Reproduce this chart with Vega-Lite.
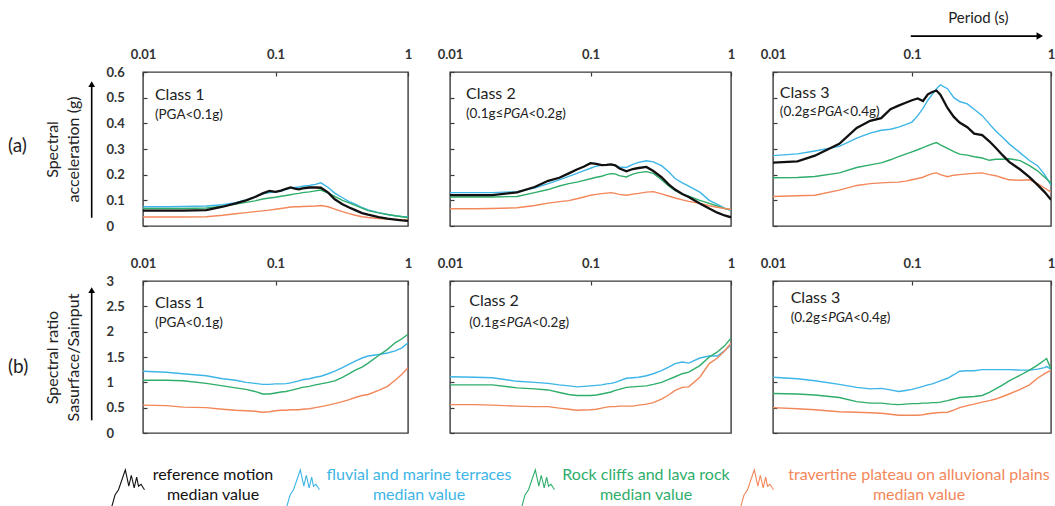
{
  "$schema": "https://vega.github.io/schema/vega-lite/v6.json",
  "padding": {"left": 7, "top": 10, "right": 0, "bottom": 0},
  "background": "white",
  "config": {
    "font": "Lato",
    "view": {"stroke": "#3a3a3a", "strokeWidth": 1.4},
    "axis": {"grid": false, "domain": false, "tickColor": "#3a3a3a", "tickSize": -4, "tickWidth": 1.2,
      "labelFont": "Lato", "labelFontWeight": "bold", "labelFontSize": 13, "labelColor": "#333",
      "labelFlush": false, "labelOverlap": false, "labelBound": false,
      "titleFont": "Lato", "titleFontWeight": "normal", "titleFontSize": 16, "titleColor": "#222", "titleLineHeight": 21}
  },
  "datasets": {
    "a1": [
      {"T":0.01,"ref":0.06,"flu":0.075,"rock":0.068,"trav":0.035},
      {"T":0.015,"ref":0.06,"flu":0.075,"rock":0.068,"trav":0.035},
      {"T":0.02,"ref":0.06,"flu":0.076,"rock":0.068,"trav":0.035},
      {"T":0.03,"ref":0.062,"flu":0.078,"rock":0.07,"trav":0.036},
      {"T":0.04,"ref":0.075,"flu":0.083,"rock":0.077,"trav":0.042},
      {"T":0.05,"ref":0.088,"flu":0.091,"rock":0.085,"trav":0.048},
      {"T":0.06,"ref":0.1,"flu":0.102,"rock":0.092,"trav":0.052},
      {"T":0.07,"ref":0.113,"flu":0.113,"rock":0.098,"trav":0.056},
      {"T":0.08,"ref":0.127,"flu":0.125,"rock":0.105,"trav":0.059},
      {"T":0.09,"ref":0.137,"flu":0.13,"rock":0.109,"trav":0.062},
      {"T":0.1,"ref":0.133,"flu":0.132,"rock":0.112,"trav":0.065},
      {"T":0.11,"ref":0.138,"flu":0.136,"rock":0.116,"trav":0.068},
      {"T":0.12,"ref":0.145,"flu":0.142,"rock":0.119,"trav":0.071},
      {"T":0.13,"ref":0.15,"flu":0.148,"rock":0.122,"trav":0.074},
      {"T":0.14,"ref":0.146,"flu":0.15,"rock":0.125,"trav":0.075},
      {"T":0.15,"ref":0.143,"flu":0.152,"rock":0.127,"trav":0.075},
      {"T":0.16,"ref":0.147,"flu":0.155,"rock":0.13,"trav":0.076},
      {"T":0.18,"ref":0.15,"flu":0.158,"rock":0.133,"trav":0.077},
      {"T":0.2,"ref":0.15,"flu":0.162,"rock":0.137,"trav":0.078},
      {"T":0.22,"ref":0.149,"flu":0.168,"rock":0.14,"trav":0.08},
      {"T":0.25,"ref":0.13,"flu":0.15,"rock":0.128,"trav":0.075},
      {"T":0.28,"ref":0.104,"flu":0.128,"rock":0.115,"trav":0.066},
      {"T":0.32,"ref":0.085,"flu":0.11,"rock":0.1,"trav":0.056},
      {"T":0.36,"ref":0.072,"flu":0.095,"rock":0.09,"trav":0.048},
      {"T":0.4,"ref":0.062,"flu":0.085,"rock":0.08,"trav":0.042},
      {"T":0.45,"ref":0.05,"flu":0.072,"rock":0.07,"trav":0.036},
      {"T":0.5,"ref":0.044,"flu":0.063,"rock":0.06,"trav":0.033},
      {"T":0.6,"ref":0.035,"flu":0.052,"rock":0.051,"trav":0.029},
      {"T":0.7,"ref":0.029,"flu":0.045,"rock":0.045,"trav":0.027},
      {"T":0.8,"ref":0.025,"flu":0.04,"rock":0.04,"trav":0.026},
      {"T":0.9,"ref":0.022,"flu":0.037,"rock":0.036,"trav":0.025},
      {"T":1,"ref":0.02,"flu":0.035,"rock":0.033,"trav":0.024}
    ],
    "a2": [
      {"T":0.01,"ref":0.12,"flu":0.13,"rock":0.113,"trav":0.067},
      {"T":0.015,"ref":0.12,"flu":0.13,"rock":0.113,"trav":0.067},
      {"T":0.02,"ref":0.12,"flu":0.13,"rock":0.113,"trav":0.068},
      {"T":0.03,"ref":0.131,"flu":0.134,"rock":0.115,"trav":0.071},
      {"T":0.04,"ref":0.152,"flu":0.148,"rock":0.13,"trav":0.08},
      {"T":0.05,"ref":0.176,"flu":0.165,"rock":0.142,"trav":0.089},
      {"T":0.06,"ref":0.188,"flu":0.18,"rock":0.156,"trav":0.095},
      {"T":0.07,"ref":0.205,"flu":0.193,"rock":0.165,"trav":0.099},
      {"T":0.08,"ref":0.22,"flu":0.205,"rock":0.171,"trav":0.106},
      {"T":0.09,"ref":0.232,"flu":0.216,"rock":0.178,"trav":0.113},
      {"T":0.1,"ref":0.245,"flu":0.225,"rock":0.184,"trav":0.12},
      {"T":0.11,"ref":0.242,"flu":0.233,"rock":0.19,"trav":0.123},
      {"T":0.12,"ref":0.237,"flu":0.237,"rock":0.194,"trav":0.126},
      {"T":0.13,"ref":0.238,"flu":0.239,"rock":0.2,"trav":0.128},
      {"T":0.14,"ref":0.24,"flu":0.24,"rock":0.204,"trav":0.13},
      {"T":0.15,"ref":0.236,"flu":0.236,"rock":0.203,"trav":0.127},
      {"T":0.16,"ref":0.225,"flu":0.23,"rock":0.196,"trav":0.123},
      {"T":0.18,"ref":0.213,"flu":0.228,"rock":0.191,"trav":0.12},
      {"T":0.2,"ref":0.222,"flu":0.24,"rock":0.202,"trav":0.124},
      {"T":0.22,"ref":0.226,"flu":0.248,"rock":0.208,"trav":0.127},
      {"T":0.25,"ref":0.23,"flu":0.254,"rock":0.212,"trav":0.132},
      {"T":0.28,"ref":0.214,"flu":0.25,"rock":0.205,"trav":0.134},
      {"T":0.32,"ref":0.19,"flu":0.235,"rock":0.18,"trav":0.125},
      {"T":0.36,"ref":0.162,"flu":0.211,"rock":0.156,"trav":0.117},
      {"T":0.4,"ref":0.142,"flu":0.185,"rock":0.138,"trav":0.109},
      {"T":0.45,"ref":0.125,"flu":0.168,"rock":0.124,"trav":0.102},
      {"T":0.5,"ref":0.113,"flu":0.155,"rock":0.116,"trav":0.096},
      {"T":0.6,"ref":0.088,"flu":0.132,"rock":0.1,"trav":0.088},
      {"T":0.7,"ref":0.068,"flu":0.1,"rock":0.088,"trav":0.079},
      {"T":0.8,"ref":0.052,"flu":0.084,"rock":0.078,"trav":0.073},
      {"T":0.9,"ref":0.041,"flu":0.07,"rock":0.068,"trav":0.068},
      {"T":1,"ref":0.034,"flu":0.06,"rock":0.063,"trav":0.064}
    ],
    "a3": [
      {"T":0.01,"ref":0.247,"flu":0.274,"rock":0.188,"trav":0.115},
      {"T":0.015,"ref":0.252,"flu":0.281,"rock":0.189,"trav":0.118},
      {"T":0.02,"ref":0.274,"flu":0.292,"rock":0.193,"trav":0.12},
      {"T":0.03,"ref":0.32,"flu":0.31,"rock":0.207,"trav":0.14},
      {"T":0.04,"ref":0.382,"flu":0.342,"rock":0.228,"trav":0.158},
      {"T":0.05,"ref":0.41,"flu":0.362,"rock":0.238,"trav":0.165},
      {"T":0.06,"ref":0.42,"flu":0.373,"rock":0.246,"trav":0.168},
      {"T":0.07,"ref":0.455,"flu":0.377,"rock":0.258,"trav":0.17},
      {"T":0.08,"ref":0.469,"flu":0.385,"rock":0.27,"trav":0.171},
      {"T":0.09,"ref":0.48,"flu":0.395,"rock":0.28,"trav":0.175},
      {"T":0.1,"ref":0.49,"flu":0.405,"rock":0.289,"trav":0.18},
      {"T":0.11,"ref":0.497,"flu":0.43,"rock":0.297,"trav":0.185},
      {"T":0.12,"ref":0.487,"flu":0.458,"rock":0.305,"trav":0.19},
      {"T":0.13,"ref":0.513,"flu":0.49,"rock":0.313,"trav":0.198},
      {"T":0.14,"ref":0.522,"flu":0.513,"rock":0.32,"trav":0.204},
      {"T":0.15,"ref":0.528,"flu":0.535,"rock":0.325,"trav":0.207},
      {"T":0.16,"ref":0.512,"flu":0.55,"rock":0.316,"trav":0.2},
      {"T":0.18,"ref":0.46,"flu":0.535,"rock":0.302,"trav":0.192},
      {"T":0.2,"ref":0.425,"flu":0.5,"rock":0.29,"trav":0.198},
      {"T":0.22,"ref":0.403,"flu":0.485,"rock":0.28,"trav":0.2},
      {"T":0.25,"ref":0.385,"flu":0.476,"rock":0.276,"trav":0.203},
      {"T":0.28,"ref":0.36,"flu":0.455,"rock":0.27,"trav":0.205},
      {"T":0.32,"ref":0.354,"flu":0.43,"rock":0.265,"trav":0.207},
      {"T":0.36,"ref":0.33,"flu":0.398,"rock":0.256,"trav":0.2},
      {"T":0.4,"ref":0.305,"flu":0.37,"rock":0.26,"trav":0.196},
      {"T":0.45,"ref":0.275,"flu":0.345,"rock":0.26,"trav":0.187},
      {"T":0.5,"ref":0.25,"flu":0.32,"rock":0.262,"trav":0.18},
      {"T":0.6,"ref":0.22,"flu":0.285,"rock":0.255,"trav":0.178},
      {"T":0.7,"ref":0.19,"flu":0.255,"rock":0.235,"trav":0.18},
      {"T":0.8,"ref":0.16,"flu":0.235,"rock":0.215,"trav":0.165},
      {"T":0.9,"ref":0.132,"flu":0.2,"rock":0.19,"trav":0.148},
      {"T":1,"ref":0.102,"flu":0.159,"rock":0.168,"trav":0.132}
    ],
    "b1": [
      {"T":0.01,"flu":1.22,"rock":1.04,"trav":0.55},
      {"T":0.015,"flu":1.2,"rock":1.04,"trav":0.54},
      {"T":0.02,"flu":1.17,"rock":1.03,"trav":0.51},
      {"T":0.03,"flu":1.13,"rock":0.98,"trav":0.5},
      {"T":0.04,"flu":1.07,"rock":0.93,"trav":0.47},
      {"T":0.05,"flu":1.04,"rock":0.89,"trav":0.45},
      {"T":0.06,"flu":1.0,"rock":0.86,"trav":0.44},
      {"T":0.07,"flu":0.98,"rock":0.82,"trav":0.43},
      {"T":0.08,"flu":0.96,"rock":0.77,"trav":0.41},
      {"T":0.09,"flu":0.96,"rock":0.77,"trav":0.42},
      {"T":0.1,"flu":0.97,"rock":0.79,"trav":0.44},
      {"T":0.11,"flu":0.97,"rock":0.81,"trav":0.45},
      {"T":0.12,"flu":0.975,"rock":0.82,"trav":0.45},
      {"T":0.13,"flu":0.99,"rock":0.84,"trav":0.46},
      {"T":0.14,"flu":1.01,"rock":0.86,"trav":0.46},
      {"T":0.15,"flu":1.03,"rock":0.88,"trav":0.46},
      {"T":0.16,"flu":1.05,"rock":0.9,"trav":0.47},
      {"T":0.18,"flu":1.07,"rock":0.92,"trav":0.48},
      {"T":0.2,"flu":1.1,"rock":0.95,"trav":0.5},
      {"T":0.22,"flu":1.12,"rock":0.97,"trav":0.52},
      {"T":0.25,"flu":1.17,"rock":1.0,"trav":0.55},
      {"T":0.28,"flu":1.22,"rock":1.03,"trav":0.58},
      {"T":0.32,"flu":1.29,"rock":1.1,"trav":0.62},
      {"T":0.36,"flu":1.36,"rock":1.17,"trav":0.66},
      {"T":0.4,"flu":1.42,"rock":1.24,"trav":0.7},
      {"T":0.45,"flu":1.48,"rock":1.3,"trav":0.74},
      {"T":0.5,"flu":1.52,"rock":1.38,"trav":0.76},
      {"T":0.6,"flu":1.55,"rock":1.53,"trav":0.84},
      {"T":0.7,"flu":1.58,"rock":1.65,"trav":0.92},
      {"T":0.8,"flu":1.62,"rock":1.78,"trav":1.04},
      {"T":0.9,"flu":1.68,"rock":1.86,"trav":1.16},
      {"T":1,"flu":1.78,"rock":1.95,"trav":1.29}
    ],
    "b2": [
      {"T":0.01,"flu":1.11,"rock":0.95,"trav":0.56},
      {"T":0.015,"flu":1.1,"rock":0.95,"trav":0.56},
      {"T":0.02,"flu":1.09,"rock":0.95,"trav":0.55},
      {"T":0.03,"flu":1.02,"rock":0.89,"trav":0.53},
      {"T":0.04,"flu":1.0,"rock":0.87,"trav":0.52},
      {"T":0.05,"flu":0.98,"rock":0.85,"trav":0.52},
      {"T":0.06,"flu":0.95,"rock":0.8,"trav":0.49},
      {"T":0.07,"flu":0.93,"rock":0.76,"trav":0.47},
      {"T":0.08,"flu":0.91,"rock":0.74,"trav":0.45},
      {"T":0.09,"flu":0.92,"rock":0.74,"trav":0.455},
      {"T":0.1,"flu":0.93,"rock":0.74,"trav":0.46},
      {"T":0.11,"flu":0.94,"rock":0.75,"trav":0.47},
      {"T":0.12,"flu":0.95,"rock":0.77,"trav":0.49},
      {"T":0.13,"flu":0.97,"rock":0.79,"trav":0.51},
      {"T":0.14,"flu":0.98,"rock":0.81,"trav":0.52},
      {"T":0.15,"flu":1.0,"rock":0.84,"trav":0.52},
      {"T":0.16,"flu":1.03,"rock":0.86,"trav":0.53},
      {"T":0.18,"flu":1.08,"rock":0.9,"trav":0.53},
      {"T":0.2,"flu":1.09,"rock":0.91,"trav":0.53},
      {"T":0.22,"flu":1.1,"rock":0.92,"trav":0.55},
      {"T":0.25,"flu":1.13,"rock":0.93,"trav":0.57},
      {"T":0.28,"flu":1.17,"rock":0.96,"trav":0.6},
      {"T":0.32,"flu":1.23,"rock":1.0,"trav":0.67},
      {"T":0.36,"flu":1.3,"rock":1.06,"trav":0.75},
      {"T":0.4,"flu":1.37,"rock":1.11,"trav":0.84},
      {"T":0.45,"flu":1.4,"rock":1.17,"trav":0.9},
      {"T":0.5,"flu":1.38,"rock":1.2,"trav":0.91},
      {"T":0.6,"flu":1.48,"rock":1.33,"trav":1.1},
      {"T":0.7,"flu":1.52,"rock":1.5,"trav":1.37},
      {"T":0.8,"flu":1.52,"rock":1.6,"trav":1.48},
      {"T":0.9,"flu":1.62,"rock":1.72,"trav":1.62},
      {"T":1,"flu":1.74,"rock":1.87,"trav":1.77}
    ],
    "b3": [
      {"T":0.01,"flu":1.1,"rock":0.78,"trav":0.5},
      {"T":0.015,"flu":1.07,"rock":0.77,"trav":0.48},
      {"T":0.02,"flu":1.03,"rock":0.75,"trav":0.46},
      {"T":0.03,"flu":0.96,"rock":0.7,"trav":0.42},
      {"T":0.04,"flu":0.9,"rock":0.62,"trav":0.41},
      {"T":0.05,"flu":0.87,"rock":0.59,"trav":0.4},
      {"T":0.06,"flu":0.88,"rock":0.59,"trav":0.39},
      {"T":0.07,"flu":0.85,"rock":0.57,"trav":0.37},
      {"T":0.08,"flu":0.82,"rock":0.56,"trav":0.35},
      {"T":0.09,"flu":0.84,"rock":0.57,"trav":0.35},
      {"T":0.1,"flu":0.86,"rock":0.58,"trav":0.35},
      {"T":0.11,"flu":0.89,"rock":0.58,"trav":0.35},
      {"T":0.12,"flu":0.92,"rock":0.59,"trav":0.36},
      {"T":0.13,"flu":0.95,"rock":0.59,"trav":0.38},
      {"T":0.14,"flu":0.97,"rock":0.6,"trav":0.39},
      {"T":0.15,"flu":1.0,"rock":0.6,"trav":0.4},
      {"T":0.16,"flu":1.03,"rock":0.61,"trav":0.405},
      {"T":0.18,"flu":1.08,"rock":0.64,"trav":0.41},
      {"T":0.2,"flu":1.15,"rock":0.67,"trav":0.45},
      {"T":0.22,"flu":1.22,"rock":0.7,"trav":0.5},
      {"T":0.25,"flu":1.23,"rock":0.71,"trav":0.54},
      {"T":0.28,"flu":1.23,"rock":0.72,"trav":0.57},
      {"T":0.32,"flu":1.25,"rock":0.74,"trav":0.61},
      {"T":0.36,"flu":1.25,"rock":0.8,"trav":0.64},
      {"T":0.4,"flu":1.25,"rock":0.87,"trav":0.67},
      {"T":0.45,"flu":1.25,"rock":0.95,"trav":0.72},
      {"T":0.5,"flu":1.25,"rock":1.03,"trav":0.77},
      {"T":0.6,"flu":1.24,"rock":1.14,"trav":0.86},
      {"T":0.7,"flu":1.24,"rock":1.24,"trav":0.95},
      {"T":0.8,"flu":1.26,"rock":1.34,"trav":1.08},
      {"T":0.9,"flu":1.29,"rock":1.44,"trav":1.17},
      {"T":0.93,"flu":1.31,"rock":1.47,"trav":1.19},
      {"T":1,"flu":1.26,"rock":1.26,"trav":1.24}
    ]
  },
  "spacing": 26,
  "vconcat": [
    {
      "spacing": 22,
      "vconcat": [
        {
          "spacing": 42,
          "bounds": "flush",
          "hconcat": [
            {
              "width": 265, "height": 154,
              "data": {"name": "a1"},
              "layer": [
                {
                  "transform": [{"fold": ["flu", "rock", "trav", "ref"], "as": ["series", "val"]}],
                  "mark": {"type": "line", "clip": true},
                  "encoding": {
                    "x": {"field": "T", "type": "quantitative", "scale": {"type": "log", "domain": [0.01, 1], "nice": false}, "axis": {"orient": "top", "values": [0.01, 0.1, 1], "format": "~g", "title": null, "labelPadding": 15}},
                    "y": {"field": "val", "type": "quantitative", "scale": {"domain": [0, 0.6], "nice": false}, "axis": {"values": [0, 0.1, 0.2, 0.3, 0.4, 0.5, 0.6], "format": "~g", "labelAlign": "left", "labelPadding": 41, "title": ["Spectral", "acceleration (g)"], "titlePadding": 25}},
                    "color": {"field": "series", "type": "nominal", "scale": {"domain": ["ref", "flu", "rock", "trav"], "range": ["#111111", "#3DB5E6", "#2EAD6B", "#F2875A"]}, "legend": null},
                    "strokeWidth": {"condition": {"test": "datum.series === 'ref'", "value": 2.3}, "value": 1.4}
                  }
                },
                {"data": {"values": [{"label": "(a)"}]}, "mark": {"type": "text", "align": "left", "baseline": "middle", "fontSize": 19, "color": "#222"},
                 "encoding": {"x": {"datum": 0.000957, "axis": {"orient": "top", "values": [0.01, 0.1, 1], "format": "~g", "title": null, "labelPadding": 15}}, "y": {"datum": 0.31, "axis": {"values": [0, 0.1, 0.2, 0.3, 0.4, 0.5, 0.6], "format": "~g", "labelAlign": "left", "labelPadding": 41, "title": ["Spectral", "acceleration (g)"], "titlePadding": 25}}, "text": {"field": "label"}}},
                {"data": {"values": [{"label": "Class 1"}]}, "mark": {"type": "text", "align": "left", "baseline": "middle", "fontSize": 16, "color": "#222"},
                 "encoding": {"x": {"datum": 0.0123, "axis": {"orient": "top", "values": [0.01, 0.1, 1], "format": "~g", "title": null, "labelPadding": 15}}, "y": {"datum": 0.51, "axis": {"values": [0, 0.1, 0.2, 0.3, 0.4, 0.5, 0.6], "format": "~g", "labelAlign": "left", "labelPadding": 41, "title": ["Spectral", "acceleration (g)"], "titlePadding": 25}}, "text": {"field": "label"}}},
                {"data": {"values": [{"label": "(PGA<0.1g)"}]}, "mark": {"type": "text", "align": "left", "baseline": "middle", "fontSize": 13.5, "color": "#222"},
                 "encoding": {"x": {"datum": 0.0123, "axis": {"orient": "top", "values": [0.01, 0.1, 1], "format": "~g", "title": null, "labelPadding": 15}}, "y": {"datum": 0.432, "axis": {"values": [0, 0.1, 0.2, 0.3, 0.4, 0.5, 0.6], "format": "~g", "labelAlign": "left", "labelPadding": 41, "title": ["Spectral", "acceleration (g)"], "titlePadding": 25}}, "text": {"field": "label"}}},
                {"data": {"values": [{}]}, "mark": {"type": "rule", "strokeWidth": 1.6, "color": "#000"},
                 "encoding": {"x": {"datum": 0.0041, "axis": {"orient": "top", "values": [0.01, 0.1, 1], "format": "~g", "title": null, "labelPadding": 15}}, "y": {"datum": 0.032, "axis": {"values": [0, 0.1, 0.2, 0.3, 0.4, 0.5, 0.6], "format": "~g", "labelAlign": "left", "labelPadding": 41, "title": ["Spectral", "acceleration (g)"], "titlePadding": 25}}, "y2": {"datum": 0.55}}},
                {"data": {"values": [{}]}, "mark": {"type": "point", "shape": "triangle-up", "filled": true, "size": 45, "color": "#000", "opacity": 1},
                 "encoding": {"x": {"datum": 0.0041, "axis": {"orient": "top", "values": [0.01, 0.1, 1], "format": "~g", "title": null, "labelPadding": 15}}, "y": {"datum": 0.553, "axis": {"values": [0, 0.1, 0.2, 0.3, 0.4, 0.5, 0.6], "format": "~g", "labelAlign": "left", "labelPadding": 41, "title": ["Spectral", "acceleration (g)"], "titlePadding": 25}}}}
              ]
            },
            {
              "width": 281, "height": 154,
              "data": {"name": "a2"},
              "layer": [
                {
                  "transform": [{"fold": ["flu", "rock", "trav", "ref"], "as": ["series", "val"]}],
                  "mark": {"type": "line", "clip": true},
                  "encoding": {
                    "x": {"field": "T", "type": "quantitative", "scale": {"type": "log", "domain": [0.01, 1], "nice": false}, "axis": {"orient": "top", "values": [0.01, 0.1, 1], "format": "~g", "title": null, "labelPadding": 15}},
                    "y": {"field": "val", "type": "quantitative", "scale": {"domain": [0, 0.6], "nice": false}, "axis": {"values": [0, 0.1, 0.2, 0.3, 0.4, 0.5, 0.6], "labels": false, "title": null}},
                    "color": {"field": "series", "type": "nominal", "scale": {"domain": ["ref", "flu", "rock", "trav"], "range": ["#111111", "#3DB5E6", "#2EAD6B", "#F2875A"]}, "legend": null},
                    "strokeWidth": {"condition": {"test": "datum.series === 'ref'", "value": 2.3}, "value": 1.4}
                  }
                },
                {"data": {"values": [{"label": "Class 2"}]}, "mark": {"type": "text", "align": "left", "baseline": "middle", "fontSize": 16, "color": "#222"},
                 "encoding": {"x": {"datum": 0.013, "axis": {"orient": "top", "values": [0.01, 0.1, 1], "format": "~g", "title": null, "labelPadding": 15}}, "y": {"datum": 0.514, "axis": {"values": [0, 0.1, 0.2, 0.3, 0.4, 0.5, 0.6], "labels": false, "title": null}}, "text": {"field": "label"}}},
                {"data": {"values": [{"label": "(0.1g≤"}]}, "mark": {"type": "text", "align": "left", "baseline": "middle", "fontSize": 13.5, "color": "#222"},
                 "encoding": {"x": {"datum": 0.013, "axis": {"orient": "top", "values": [0.01, 0.1, 1], "format": "~g", "title": null, "labelPadding": 15}}, "y": {"datum": 0.436, "axis": {"values": [0, 0.1, 0.2, 0.3, 0.4, 0.5, 0.6], "labels": false, "title": null}}, "text": {"field": "label"}}},
                {"data": {"values": [{"label": "PGA"}]}, "mark": {"type": "text", "align": "left", "baseline": "middle", "fontSize": 13.5, "fontStyle": "italic", "color": "#222", "dx": 37.5},
                 "encoding": {"x": {"datum": 0.013, "axis": {"orient": "top", "values": [0.01, 0.1, 1], "format": "~g", "title": null, "labelPadding": 15}}, "y": {"datum": 0.436, "axis": {"values": [0, 0.1, 0.2, 0.3, 0.4, 0.5, 0.6], "labels": false, "title": null}}, "text": {"field": "label"}}},
                {"data": {"values": [{"label": "<0.2g)"}]}, "mark": {"type": "text", "align": "left", "baseline": "middle", "fontSize": 13.5, "color": "#222", "dx": 62.5},
                 "encoding": {"x": {"datum": 0.013, "axis": {"orient": "top", "values": [0.01, 0.1, 1], "format": "~g", "title": null, "labelPadding": 15}}, "y": {"datum": 0.436, "axis": {"values": [0, 0.1, 0.2, 0.3, 0.4, 0.5, 0.6], "labels": false, "title": null}}, "text": {"field": "label"}}}
              ]
            },
            {
              "width": 278, "height": 154,
              "data": {"name": "a3"},
              "layer": [
                {
                  "transform": [{"fold": ["flu", "rock", "trav", "ref"], "as": ["series", "val"]}],
                  "mark": {"type": "line", "clip": true},
                  "encoding": {
                    "x": {"field": "T", "type": "quantitative", "scale": {"type": "log", "domain": [0.01, 1], "nice": false}, "axis": {"orient": "top", "values": [0.01, 0.1, 1], "format": "~g", "title": null, "labelPadding": 15}},
                    "y": {"field": "val", "type": "quantitative", "scale": {"domain": [0, 0.6], "nice": false}, "axis": {"values": [0, 0.1, 0.2, 0.3, 0.4, 0.5, 0.6], "labels": false, "title": null}},
                    "color": {"field": "series", "type": "nominal", "scale": {"domain": ["ref", "flu", "rock", "trav"], "range": ["#111111", "#3DB5E6", "#2EAD6B", "#F2875A"]}, "legend": null},
                    "strokeWidth": {"condition": {"test": "datum.series === 'ref'", "value": 2.3}, "value": 1.4}
                  }
                },
                {"data": {"values": [{"label": "Class 3"}]}, "mark": {"type": "text", "align": "left", "baseline": "middle", "fontSize": 16, "color": "#222"},
                 "encoding": {"x": {"datum": 0.0112, "axis": {"orient": "top", "values": [0.01, 0.1, 1], "format": "~g", "title": null, "labelPadding": 15}}, "y": {"datum": 0.52, "axis": {"values": [0, 0.1, 0.2, 0.3, 0.4, 0.5, 0.6], "labels": false, "title": null}}, "text": {"field": "label"}}},
                {"data": {"values": [{"label": "(0.2g≤"}]}, "mark": {"type": "text", "align": "left", "baseline": "middle", "fontSize": 13.5, "color": "#222"},
                 "encoding": {"x": {"datum": 0.0112, "axis": {"orient": "top", "values": [0.01, 0.1, 1], "format": "~g", "title": null, "labelPadding": 15}}, "y": {"datum": 0.443, "axis": {"values": [0, 0.1, 0.2, 0.3, 0.4, 0.5, 0.6], "labels": false, "title": null}}, "text": {"field": "label"}}},
                {"data": {"values": [{"label": "PGA"}]}, "mark": {"type": "text", "align": "left", "baseline": "middle", "fontSize": 13.5, "fontStyle": "italic", "color": "#222", "dx": 37.5},
                 "encoding": {"x": {"datum": 0.0112, "axis": {"orient": "top", "values": [0.01, 0.1, 1], "format": "~g", "title": null, "labelPadding": 15}}, "y": {"datum": 0.443, "axis": {"values": [0, 0.1, 0.2, 0.3, 0.4, 0.5, 0.6], "labels": false, "title": null}}, "text": {"field": "label"}}},
                {"data": {"values": [{"label": "<0.4g)"}]}, "mark": {"type": "text", "align": "left", "baseline": "middle", "fontSize": 13.5, "color": "#222", "dx": 62.5},
                 "encoding": {"x": {"datum": 0.0112, "axis": {"orient": "top", "values": [0.01, 0.1, 1], "format": "~g", "title": null, "labelPadding": 15}}, "y": {"datum": 0.443, "axis": {"values": [0, 0.1, 0.2, 0.3, 0.4, 0.5, 0.6], "labels": false, "title": null}}, "text": {"field": "label"}}},
                {"data": {"values": [{"label": "Period (s)"}]}, "mark": {"type": "text", "align": "center", "baseline": "middle", "fontSize": 15, "color": "#222"},
                 "encoding": {"x": {"datum": 0.3, "axis": {"orient": "top", "values": [0.01, 0.1, 1], "format": "~g", "title": null, "labelPadding": 15}}, "y": {"datum": 0.81, "axis": {"values": [0, 0.1, 0.2, 0.3, 0.4, 0.5, 0.6], "labels": false, "title": null}}, "text": {"field": "label"}}},
                {"data": {"values": [{}]}, "mark": {"type": "rule", "strokeWidth": 1.8, "color": "#000"},
                 "encoding": {"x": {"datum": 0.098, "axis": {"orient": "top", "values": [0.01, 0.1, 1], "format": "~g", "title": null, "labelPadding": 15}}, "x2": {"datum": 0.8}, "y": {"datum": 0.74, "axis": {"values": [0, 0.1, 0.2, 0.3, 0.4, 0.5, 0.6], "labels": false, "title": null}}}},
                {"data": {"values": [{}]}, "mark": {"type": "point", "shape": "triangle-right", "filled": true, "size": 55, "color": "#000", "opacity": 1},
                 "encoding": {"x": {"datum": 0.83, "axis": {"orient": "top", "values": [0.01, 0.1, 1], "format": "~g", "title": null, "labelPadding": 15}}, "y": {"datum": 0.74, "axis": {"values": [0, 0.1, 0.2, 0.3, 0.4, 0.5, 0.6], "labels": false, "title": null}}}}
              ]
            }
          ]
        },
        {
          "spacing": 42,
          "bounds": "flush",
          "hconcat": [
            {
              "width": 265, "height": 152,
              "data": {"name": "b1"},
              "layer": [
                {
                  "transform": [{"fold": ["flu", "rock", "trav"], "as": ["series", "val"]}],
                  "mark": {"type": "line", "clip": true, "strokeWidth": 1.4},
                  "encoding": {
                    "x": {"field": "T", "type": "quantitative", "scale": {"type": "log", "domain": [0.01, 1], "nice": false}, "axis": {"orient": "top", "values": [0.01, 0.1, 1], "format": "~g", "title": null, "labelPadding": 15}},
                    "y": {"field": "val", "type": "quantitative", "scale": {"domain": [0, 3], "nice": false}, "axis": {"values": [0, 0.5, 1, 1.5, 2, 2.5, 3], "format": "~g", "labelAlign": "left", "labelPadding": 41, "title": ["Spectral ratio", "Sasurface/Sainput"], "titlePadding": 25}},
                    "color": {"field": "series", "type": "nominal", "scale": {"domain": ["ref", "flu", "rock", "trav"], "range": ["#111111", "#3DB5E6", "#2EAD6B", "#F2875A"]}, "legend": null}
                  }
                },
                {"data": {"values": [{"label": "(b)"}]}, "mark": {"type": "text", "align": "left", "baseline": "middle", "fontSize": 19, "color": "#222"},
                 "encoding": {"x": {"datum": 0.000957, "axis": {"orient": "top", "values": [0.01, 0.1, 1], "format": "~g", "title": null, "labelPadding": 15}}, "y": {"datum": 1.3, "axis": {"values": [0, 0.5, 1, 1.5, 2, 2.5, 3], "format": "~g", "labelAlign": "left", "labelPadding": 41, "title": ["Spectral ratio", "Sasurface/Sainput"], "titlePadding": 25}}, "text": {"field": "label"}}},
                {"data": {"values": [{"label": "Class 1"}]}, "mark": {"type": "text", "align": "left", "baseline": "middle", "fontSize": 16, "color": "#222"},
                 "encoding": {"x": {"datum": 0.0123, "axis": {"orient": "top", "values": [0.01, 0.1, 1], "format": "~g", "title": null, "labelPadding": 15}}, "y": {"datum": 2.56, "axis": {"values": [0, 0.5, 1, 1.5, 2, 2.5, 3], "format": "~g", "labelAlign": "left", "labelPadding": 41, "title": ["Spectral ratio", "Sasurface/Sainput"], "titlePadding": 25}}, "text": {"field": "label"}}},
                {"data": {"values": [{"label": "(PGA<0.1g)"}]}, "mark": {"type": "text", "align": "left", "baseline": "middle", "fontSize": 13.5, "color": "#222"},
                 "encoding": {"x": {"datum": 0.0123, "axis": {"orient": "top", "values": [0.01, 0.1, 1], "format": "~g", "title": null, "labelPadding": 15}}, "y": {"datum": 2.18, "axis": {"values": [0, 0.5, 1, 1.5, 2, 2.5, 3], "format": "~g", "labelAlign": "left", "labelPadding": 41, "title": ["Spectral ratio", "Sasurface/Sainput"], "titlePadding": 25}}, "text": {"field": "label"}}},
                {"data": {"values": [{}]}, "mark": {"type": "rule", "strokeWidth": 1.6, "color": "#000"},
                 "encoding": {"x": {"datum": 0.0041, "axis": {"orient": "top", "values": [0.01, 0.1, 1], "format": "~g", "title": null, "labelPadding": 15}}, "y": {"datum": 0.25, "axis": {"values": [0, 0.5, 1, 1.5, 2, 2.5, 3], "format": "~g", "labelAlign": "left", "labelPadding": 41, "title": ["Spectral ratio", "Sasurface/Sainput"], "titlePadding": 25}}, "y2": {"datum": 2.8}}},
                {"data": {"values": [{}]}, "mark": {"type": "point", "shape": "triangle-up", "filled": true, "size": 45, "color": "#000", "opacity": 1},
                 "encoding": {"x": {"datum": 0.0041, "axis": {"orient": "top", "values": [0.01, 0.1, 1], "format": "~g", "title": null, "labelPadding": 15}}, "y": {"datum": 2.82, "axis": {"values": [0, 0.5, 1, 1.5, 2, 2.5, 3], "format": "~g", "labelAlign": "left", "labelPadding": 41, "title": ["Spectral ratio", "Sasurface/Sainput"], "titlePadding": 25}}}}
              ]
            },
            {
              "width": 281, "height": 152,
              "data": {"name": "b2"},
              "layer": [
                {
                  "transform": [{"fold": ["flu", "rock", "trav"], "as": ["series", "val"]}],
                  "mark": {"type": "line", "clip": true, "strokeWidth": 1.4},
                  "encoding": {
                    "x": {"field": "T", "type": "quantitative", "scale": {"type": "log", "domain": [0.01, 1], "nice": false}, "axis": {"orient": "top", "values": [0.01, 0.1, 1], "format": "~g", "title": null, "labelPadding": 15}},
                    "y": {"field": "val", "type": "quantitative", "scale": {"domain": [0, 3], "nice": false}, "axis": {"values": [0, 0.5, 1, 1.5, 2, 2.5, 3], "labels": false, "title": null}},
                    "color": {"field": "series", "type": "nominal", "scale": {"domain": ["ref", "flu", "rock", "trav"], "range": ["#111111", "#3DB5E6", "#2EAD6B", "#F2875A"]}, "legend": null}
                  }
                },
                {"data": {"values": [{"label": "Class 2"}]}, "mark": {"type": "text", "align": "left", "baseline": "middle", "fontSize": 16, "color": "#222"},
                 "encoding": {"x": {"datum": 0.0137, "axis": {"orient": "top", "values": [0.01, 0.1, 1], "format": "~g", "title": null, "labelPadding": 15}}, "y": {"datum": 2.6, "axis": {"values": [0, 0.5, 1, 1.5, 2, 2.5, 3], "labels": false, "title": null}}, "text": {"field": "label"}}},
                {"data": {"values": [{"label": "(0.1g≤"}]}, "mark": {"type": "text", "align": "left", "baseline": "middle", "fontSize": 13.5, "color": "#222"},
                 "encoding": {"x": {"datum": 0.0137, "axis": {"orient": "top", "values": [0.01, 0.1, 1], "format": "~g", "title": null, "labelPadding": 15}}, "y": {"datum": 2.18, "axis": {"values": [0, 0.5, 1, 1.5, 2, 2.5, 3], "labels": false, "title": null}}, "text": {"field": "label"}}},
                {"data": {"values": [{"label": "PGA"}]}, "mark": {"type": "text", "align": "left", "baseline": "middle", "fontSize": 13.5, "fontStyle": "italic", "color": "#222", "dx": 37.5},
                 "encoding": {"x": {"datum": 0.0137, "axis": {"orient": "top", "values": [0.01, 0.1, 1], "format": "~g", "title": null, "labelPadding": 15}}, "y": {"datum": 2.18, "axis": {"values": [0, 0.5, 1, 1.5, 2, 2.5, 3], "labels": false, "title": null}}, "text": {"field": "label"}}},
                {"data": {"values": [{"label": "<0.2g)"}]}, "mark": {"type": "text", "align": "left", "baseline": "middle", "fontSize": 13.5, "color": "#222", "dx": 62.5},
                 "encoding": {"x": {"datum": 0.0137, "axis": {"orient": "top", "values": [0.01, 0.1, 1], "format": "~g", "title": null, "labelPadding": 15}}, "y": {"datum": 2.18, "axis": {"values": [0, 0.5, 1, 1.5, 2, 2.5, 3], "labels": false, "title": null}}, "text": {"field": "label"}}}
              ]
            },
            {
              "width": 278, "height": 152,
              "data": {"name": "b3"},
              "layer": [
                {
                  "transform": [{"fold": ["flu", "rock", "trav"], "as": ["series", "val"]}],
                  "mark": {"type": "line", "clip": true, "strokeWidth": 1.4},
                  "encoding": {
                    "x": {"field": "T", "type": "quantitative", "scale": {"type": "log", "domain": [0.01, 1], "nice": false}, "axis": {"orient": "top", "values": [0.01, 0.1, 1], "format": "~g", "title": null, "labelPadding": 15}},
                    "y": {"field": "val", "type": "quantitative", "scale": {"domain": [0, 3], "nice": false}, "axis": {"values": [0, 0.5, 1, 1.5, 2, 2.5, 3], "labels": false, "title": null}},
                    "color": {"field": "series", "type": "nominal", "scale": {"domain": ["ref", "flu", "rock", "trav"], "range": ["#111111", "#3DB5E6", "#2EAD6B", "#F2875A"]}, "legend": null}
                  }
                },
                {"data": {"values": [{"label": "Class 3"}]}, "mark": {"type": "text", "align": "left", "baseline": "middle", "fontSize": 16, "color": "#222"},
                 "encoding": {"x": {"datum": 0.0134, "axis": {"orient": "top", "values": [0.01, 0.1, 1], "format": "~g", "title": null, "labelPadding": 15}}, "y": {"datum": 2.67, "axis": {"values": [0, 0.5, 1, 1.5, 2, 2.5, 3], "labels": false, "title": null}}, "text": {"field": "label"}}},
                {"data": {"values": [{"label": "(0.2g≤"}]}, "mark": {"type": "text", "align": "left", "baseline": "middle", "fontSize": 13.5, "color": "#222"},
                 "encoding": {"x": {"datum": 0.0134, "axis": {"orient": "top", "values": [0.01, 0.1, 1], "format": "~g", "title": null, "labelPadding": 15}}, "y": {"datum": 2.27, "axis": {"values": [0, 0.5, 1, 1.5, 2, 2.5, 3], "labels": false, "title": null}}, "text": {"field": "label"}}},
                {"data": {"values": [{"label": "PGA"}]}, "mark": {"type": "text", "align": "left", "baseline": "middle", "fontSize": 13.5, "fontStyle": "italic", "color": "#222", "dx": 37.5},
                 "encoding": {"x": {"datum": 0.0134, "axis": {"orient": "top", "values": [0.01, 0.1, 1], "format": "~g", "title": null, "labelPadding": 15}}, "y": {"datum": 2.27, "axis": {"values": [0, 0.5, 1, 1.5, 2, 2.5, 3], "labels": false, "title": null}}, "text": {"field": "label"}}},
                {"data": {"values": [{"label": "<0.4g)"}]}, "mark": {"type": "text", "align": "left", "baseline": "middle", "fontSize": 13.5, "color": "#222", "dx": 62.5},
                 "encoding": {"x": {"datum": 0.0134, "axis": {"orient": "top", "values": [0.01, 0.1, 1], "format": "~g", "title": null, "labelPadding": 15}}, "y": {"datum": 2.27, "axis": {"values": [0, 0.5, 1, 1.5, 2, 2.5, 3], "labels": false, "title": null}}, "text": {"field": "label"}}}
              ]
            }
          ]
        }
      ]
    },
    {
      "spacing": 0,
      "bounds": "flush",
      "hconcat": [
        {
          "width": 140, "height": 36, "view": {"stroke": null},
          "data": {"values": [{"series": "ref", "label": "reference motion\nmedian value"}]},
          "layer": [
            {"mark": {"type": "point", "shape": "M-0.8,1L-0.63,0.39L-0.46,0.13L-0.34,-0.22L-0.13,-0.83L0.04,-0.04L0.16,-0.57L0.3,0.04L0.42,-0.48L0.51,-0.04L0.63,-0.13L0.8,0.13", "filled": false, "size": 1700, "strokeWidth": 1.1, "opacity": 1, "xOffset": -85, "yOffset": -1},
             "encoding": {"color": {"field": "series", "type": "nominal", "scale": {"domain": ["ref", "flu", "rock", "trav"], "range": ["#111111", "#3DB5E6", "#2EAD6B", "#F2875A"]}, "legend": null}}},
            {"mark": {"type": "text", "align": "center", "baseline": "middle", "lineBreak": "\n", "lineHeight": 20, "fontSize": 16, "dy": -13},
             "encoding": {"text": {"field": "label"}, "color": {"field": "series", "type": "nominal", "scale": {"domain": ["ref", "flu", "rock", "trav"], "range": ["#111111", "#3DB5E6", "#2EAD6B", "#F2875A"]}, "legend": null}}}
          ]
        },
        {
          "width": 272, "height": 36, "view": {"stroke": null},
          "data": {"values": [{"series": "flu", "label": "fluvial and marine terraces\nmedian value"}]},
          "layer": [
            {"mark": {"type": "point", "shape": "M-0.8,1L-0.63,0.39L-0.46,0.13L-0.34,-0.22L-0.13,-0.83L0.04,-0.04L0.16,-0.57L0.3,0.04L0.42,-0.48L0.51,-0.04L0.63,-0.13L0.8,0.13", "filled": false, "size": 1700, "strokeWidth": 1.1, "opacity": 1, "xOffset": -116, "yOffset": -1},
             "encoding": {"color": {"field": "series", "type": "nominal", "scale": {"domain": ["ref", "flu", "rock", "trav"], "range": ["#111111", "#3DB5E6", "#2EAD6B", "#F2875A"]}, "legend": null}}},
            {"mark": {"type": "text", "align": "center", "baseline": "middle", "lineBreak": "\n", "lineHeight": 20, "fontSize": 16, "dy": -13},
             "encoding": {"text": {"field": "label"}, "color": {"field": "series", "type": "nominal", "scale": {"domain": ["ref", "flu", "rock", "trav"], "range": ["#111111", "#3DB5E6", "#2EAD6B", "#F2875A"]}, "legend": null}}}
          ]
        },
        {
          "width": 182, "height": 36, "view": {"stroke": null},
          "data": {"values": [{"series": "rock", "label": "Rock cliffs and lava rock\nmedian value"}]},
          "layer": [
            {"mark": {"type": "point", "shape": "M-0.8,1L-0.63,0.39L-0.46,0.13L-0.34,-0.22L-0.13,-0.83L0.04,-0.04L0.16,-0.57L0.3,0.04L0.42,-0.48L0.51,-0.04L0.63,-0.13L0.8,0.13", "filled": false, "size": 1700, "strokeWidth": 1.1, "opacity": 1, "xOffset": -108, "yOffset": -1},
             "encoding": {"color": {"field": "series", "type": "nominal", "scale": {"domain": ["ref", "flu", "rock", "trav"], "range": ["#111111", "#3DB5E6", "#2EAD6B", "#F2875A"]}, "legend": null}}},
            {"mark": {"type": "text", "align": "center", "baseline": "middle", "lineBreak": "\n", "lineHeight": 20, "fontSize": 16, "dy": -13},
             "encoding": {"text": {"field": "label"}, "color": {"field": "series", "type": "nominal", "scale": {"domain": ["ref", "flu", "rock", "trav"], "range": ["#111111", "#3DB5E6", "#2EAD6B", "#F2875A"]}, "legend": null}}}
          ]
        },
        {
          "width": 316, "height": 36, "view": {"stroke": null},
          "data": {"values": [{"series": "trav", "label": "travertine plateau on alluvional plains\nmedian value"}]},
          "layer": [
            {"mark": {"type": "point", "shape": "M-0.8,1L-0.63,0.39L-0.46,0.13L-0.34,-0.22L-0.13,-0.83L0.04,-0.04L0.16,-0.57L0.3,0.04L0.42,-0.48L0.51,-0.04L0.63,-0.13L0.8,0.13", "filled": false, "size": 1700, "strokeWidth": 1.1, "opacity": 1, "xOffset": -138, "yOffset": -1},
             "encoding": {"color": {"field": "series", "type": "nominal", "scale": {"domain": ["ref", "flu", "rock", "trav"], "range": ["#111111", "#3DB5E6", "#2EAD6B", "#F2875A"]}, "legend": null}}},
            {"mark": {"type": "text", "align": "center", "baseline": "middle", "lineBreak": "\n", "lineHeight": 20, "fontSize": 16, "dx": 24, "dy": -13},
             "encoding": {"text": {"field": "label"}, "color": {"field": "series", "type": "nominal", "scale": {"domain": ["ref", "flu", "rock", "trav"], "range": ["#111111", "#3DB5E6", "#2EAD6B", "#F2875A"]}, "legend": null}}}
          ]
        }
      ]
    }
  ]
}
